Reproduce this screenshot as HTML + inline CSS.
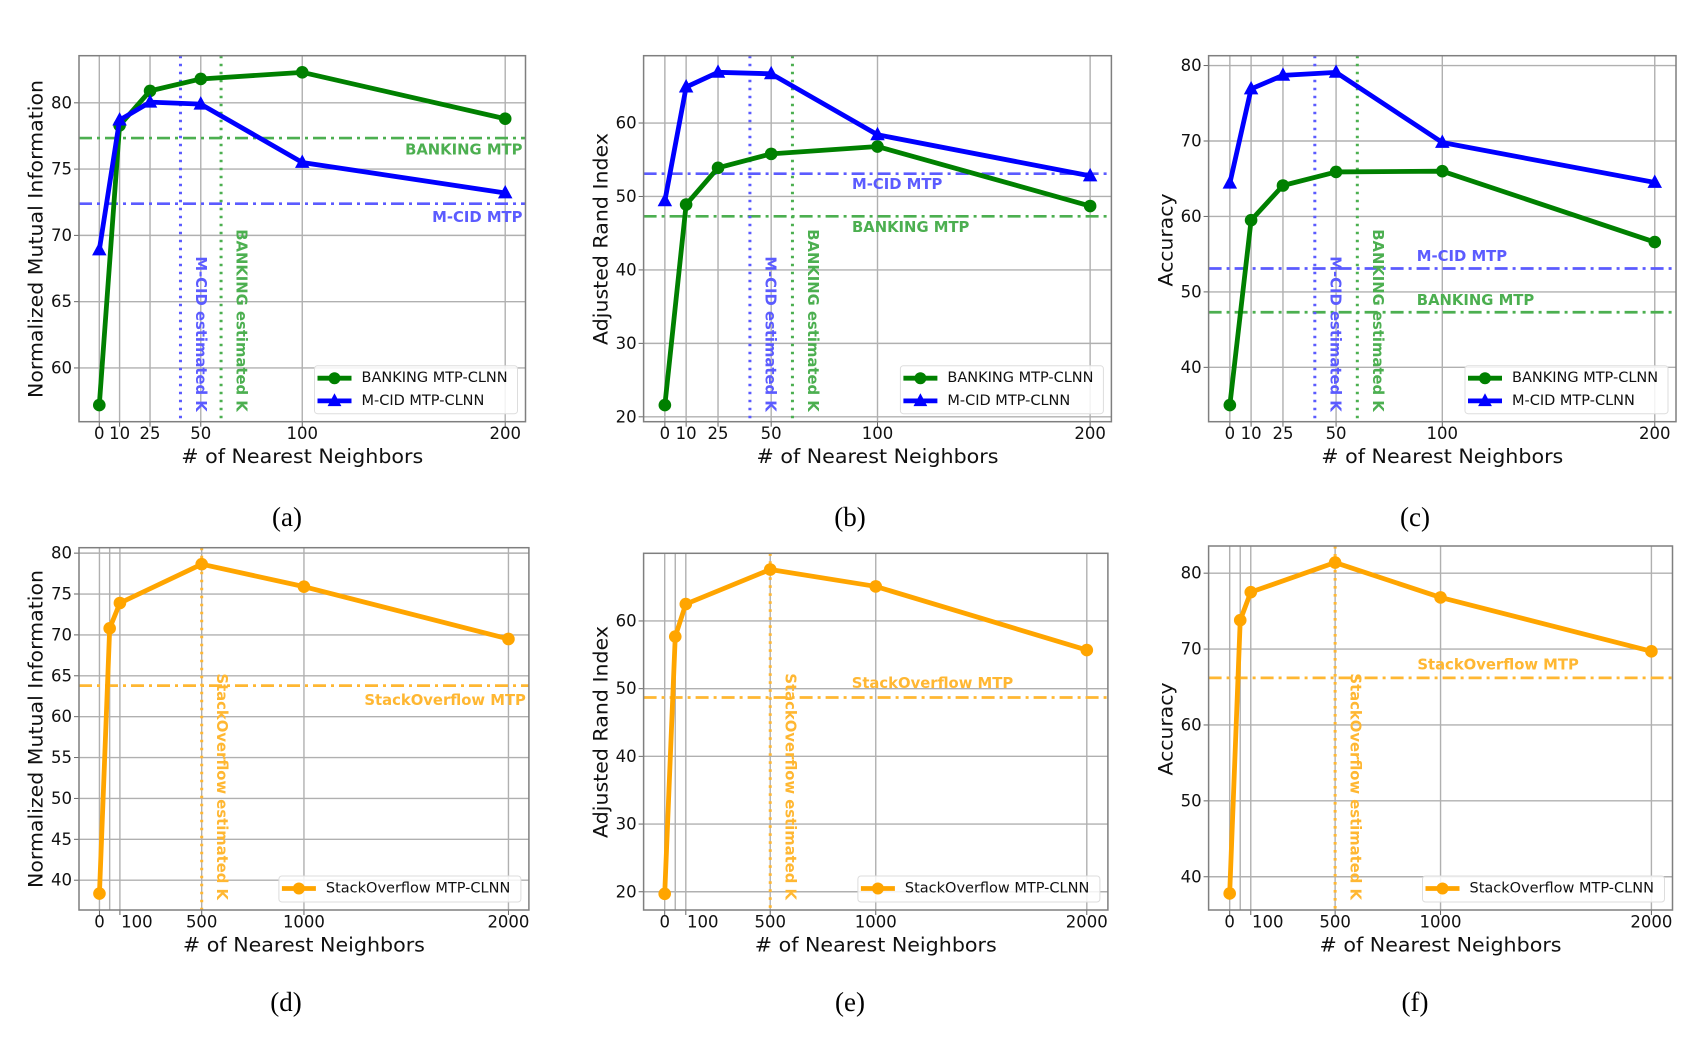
<!DOCTYPE html>
<html><head><meta charset="utf-8"><style>
html,body{margin:0;padding:0;background:#fff;}
svg{display:block;font-family:"DejaVu Sans","Liberation Sans",sans-serif;}
.cap{font-family:"Liberation Serif",serif;}
</style></head><body>
<svg id="fig" width="1706" height="1046" viewBox="0 0 1706 1046" xmlns="http://www.w3.org/2000/svg">
<rect x="0" y="0" width="1706" height="1046" fill="#fff"/>
</svg>
<script>
// ---- data ----
const kTop = [0, 10, 25, 50, 100, 200];
const kBot = [0, 50, 100, 500, 1000, 2000];
const kTopLabels = ["0", "10", "25", "50", "100", "200"];
const kBotTicks = [0, 100, 500, 1000, 2000];
const kBotGrid = [0, 50, 100, 500, 1000, 2000];
const nmiBanking = [57.2, 78.3, 80.9, 81.8, 82.3, 78.8];
const nmiMcid = [68.9, 78.7, 80.05, 79.9, 75.5, 73.2];
const ariBanking = [21.6, 48.9, 53.9, 55.8, 56.8, 48.7];
const ariMcid = [49.4, 64.9, 66.9, 66.7, 58.4, 52.8];
const accBanking = [35.0, 59.5, 64.1, 65.9, 66.0, 56.6];
const accMcid = [64.4, 76.9, 78.7, 79.1, 69.8, 64.5];
const nmiStack = [38.37, 70.8, 73.9, 78.65, 75.9, 69.5];
const ariStack = [19.7, 57.7, 62.5, 67.6, 65.1, 55.7];
const accStack = [37.8, 73.8, 77.5, 81.4, 76.8, 69.7];
const mtpNmiBanking = 77.34, mtpNmiMcid = 72.39;
const mtpAriBanking = 47.3, mtpAriMcid = 53.1;
const mtpAccBanking = 47.3, mtpAccMcid = 53.1;
const mtpNmiStack = 63.8, mtpAriStack = 48.7, mtpAccStack = 66.2;
const estKBanking = 60, estKMcid = 40, estKStack = 500;
const yTicksNmiTop = [60, 65, 70, 75, 80];
const yTicksAri = [20, 30, 40, 50, 60];
const yTicksAcc = [40, 50, 60, 70, 80];
const yTicksNmiBot = [40, 45, 50, 55, 60, 65, 70, 75, 80];
const yTicksAriBot = [20, 30, 40, 50, 60, 70];
const yTicksAccBot = [40, 50, 60, 70, 80];

const GREEN = "#008000", BLUE = "#0000ff", ORANGE = "#ffa500";
const LGREEN = "#4caf50", LBLUE = "#5b5bff", LORANGE = "#ffb732";
const svg = document.getElementById('fig');
const NS = "http://www.w3.org/2000/svg";

function mk(tag, attrs, name, parent) {
  const el = document.createElementNS(NS, tag);
  for (const k in attrs) el.setAttribute(k, attrs[k]);
  
  
  (parent || svg).appendChild(el);
  return el;
}
function txt(s, attrs, name, parent) {
  const t = mk('text', attrs, name, parent);
  t.textContent = s;
  return t;
}
function lim(vals) {
  const mn = Math.min(...vals), mx = Math.max(...vals), m = (mx - mn) * 0.05;
  return [mn - m, mx + m];
}

function panel(cfg) {
  const g = mk('g', {}, cfg.id + '-chart');
  const [x0, x1] = lim(cfg.xs);
  let all = [];
  cfg.series.forEach(s => all = all.concat(s.vals));
  const [y0, y1] = lim(all);
  const X = v => cfg.L + (v - x0) / (x1 - x0) * (cfg.R - cfg.L);
  const Y = v => cfg.B - (v - y0) / (y1 - y0) * (cfg.B - cfg.T);
  cfg.xgrid.forEach(v => {
    mk('line', {x1: X(v), x2: X(v), y1: cfg.T, y2: cfg.B, stroke: '#b0b0b0', 'stroke-width': 1.4}, 'x-gridline', g);
  });
  cfg.yticks.forEach(v => {
    if (v < y0 || v > y1) return;
    mk('line', {x1: cfg.L, x2: cfg.R, y1: Y(v), y2: Y(v), stroke: '#b0b0b0', 'stroke-width': 1.4}, 'y-gridline', g);
    mk('line', {x1: cfg.L - 5, x2: cfg.L, y1: Y(v), y2: Y(v), stroke: '#666', 'stroke-width': 1}, 'y-tick', g);
    txt(String(v), {x: cfg.L - 7, y: Y(v), 'text-anchor': 'end', 'dominant-baseline': 'central', 'font-size': 16.5, fill: '#111'}, 'y-tick-label', g);
  });
  cfg.xticks.forEach((v, i) => {
    mk('line', {x1: X(v), x2: X(v), y1: cfg.B, y2: cfg.B + 5, stroke: '#666', 'stroke-width': 1}, 'x-tick', g);
    const off = (cfg.labelShift && cfg.labelShift[i]) || 0;
    txt(cfg.xlabels[i], {x: X(v) + off, y: cfg.B + 12, 'text-anchor': 'middle', 'dominant-baseline': 'central', 'font-size': 16.5, fill: '#111'}, 'x-tick-label', g);
  });
  cfg.hlines.forEach(h => {
    mk('line', {x1: cfg.L, x2: cfg.R, y1: Y(h.v), y2: Y(h.v), stroke: h.c, 'stroke-width': 2.7, 'stroke-dasharray': '13,5,3,5'}, h.name + '-line', g);
    const tx = h.anchor === 'end' ? cfg.R - 3 : X(h.lx);
    txt(h.label, {x: tx, y: Y(h.v) + h.dy, 'text-anchor': h.anchor, 'dominant-baseline': 'central', 'font-size': 14.8, 'font-weight': 'bold', fill: h.c}, h.name + '-label', g);
  });
  cfg.vlines.forEach(vl => {
    mk('line', {x1: X(vl.v), x2: X(vl.v), y1: cfg.T, y2: cfg.B, stroke: vl.c, 'stroke-width': 3, 'stroke-dasharray': '2.6,5.4'}, vl.name + '-line', g);
    const tx = X(vl.v) + 20, ty = cfg.B - 10;
    txt(vl.label, {x: tx, y: ty, transform: `rotate(90 ${tx} ${ty})`, 'text-anchor': 'end', 'dominant-baseline': 'central', 'font-size': 14.8, 'font-weight': 'bold', fill: vl.c}, vl.name + '-label', g);
  });
  cfg.series.forEach(s => {
    const pts = cfg.xs.map((v, i) => X(v) + ',' + Y(s.vals[i])).join(' ');
    mk('polyline', {points: pts, fill: 'none', stroke: s.c, 'stroke-width': 4.8, 'stroke-linejoin': 'round'}, s.name + '-line', g);
    cfg.xs.forEach((v, i) => {
      drawMarker(g, s, X(v), Y(s.vals[i]), 6.3);
    });
  });
  mk('rect', {x: cfg.L, y: cfg.T, width: cfg.R - cfg.L, height: cfg.B - cfg.T, fill: 'none', stroke: '#7f7f7f', 'stroke-width': 1.5}, 'plot-frame', g);
  const n = cfg.series.length, lw = cfg.legW, lh = n === 2 ? 48 : 26;
  const lx = cfg.R - 8 - lw, ly = cfg.B - 8 - lh;
  const lg = mk('g', {}, 'legend', g);
  mk('rect', {x: lx, y: ly, width: lw, height: lh, rx: 3, fill: '#fff', 'fill-opacity': 0.85, stroke: '#ddd', 'stroke-width': 1}, 'legend-box', lg);
  cfg.series.forEach((s, i) => {
    const cy = ly + 12.5 + i * 22.7;
    const e = mk('g', {}, 'legend-entry', lg);
    mk('line', {x1: lx + 3, x2: lx + 37, y1: cy, y2: cy, stroke: s.c, 'stroke-width': 4.8}, 'legend-swatch', e);
    drawMarker(e, s, lx + 20, cy, 6);
    txt(s.label, {x: lx + 47, y: cy, 'dominant-baseline': 'central', 'font-size': 14.5, fill: '#111'}, 'legend-label', e);
  });
  const cx = (cfg.L + cfg.R) / 2;
  txt('# of Nearest Neighbors', {x: cx, y: cfg.B + 35, 'text-anchor': 'middle', 'dominant-baseline': 'central', 'font-size': 19.5, textLength: 242, lengthAdjust: 'spacingAndGlyphs', fill: '#111'}, 'x-axis-title', g);
  txt(cfg.ylabel, {x: cfg.ylx, y: cfg.yly, transform: `rotate(-90 ${cfg.ylx} ${cfg.yly})`, 'text-anchor': 'middle', 'dominant-baseline': 'central', 'font-size': 19.5, textLength: cfg.ylen, lengthAdjust: 'spacingAndGlyphs', fill: '#111'}, 'y-axis-title', g);
  txt(cfg.caption, {x: cfg.capx, y: cfg.capy, 'text-anchor': 'middle', 'dominant-baseline': 'central', 'font-size': 27, fill: '#000', class: 'cap'}, 'panel-caption', g);
}
function drawMarker(g, s, x, y, r) {
  if (s.marker === 'tri') {
    const h = r * 1.15;
    mk('polygon', {points: `${x},${y - h * 1.1} ${x - h},${y + h * 0.75} ${x + h},${y + h * 0.75}`, fill: s.c}, s.name + '-marker', g);
  } else {
    mk('circle', {cx: x, cy: y, r: r, fill: s.c}, s.name + '-marker', g);
  }
}

const topCommon = {xs: kTop, xticks: kTop, xgrid: kTop, xlabels: kTopLabels, T: 55.7, B: 421.7, legW: 203};
const botCommon = {xs: kBot, xticks: kBotTicks, xgrid: kBotGrid, xlabels: kBotTicks.map(String), labelShift: [0, 17, 0, 0, 0], legW: 242};

panel(Object.assign({}, topCommon, {id: 'nmi-top', L: 79, R: 525.5, yticks: yTicksNmiTop,
  series: [{name: 'banking', label: 'BANKING MTP-CLNN', vals: nmiBanking, c: GREEN, marker: 'circle'},
           {name: 'mcid', label: 'M-CID MTP-CLNN', vals: nmiMcid, c: BLUE, marker: 'tri'}],
  hlines: [{name: 'banking-mtp', v: mtpNmiBanking, c: LGREEN, label: 'BANKING MTP', anchor: 'end', dy: 12},
           {name: 'mcid-mtp', v: mtpNmiMcid, c: LBLUE, label: 'M-CID MTP', anchor: 'end', dy: 14}],
  vlines: [{name: 'mcid-estimated-k', v: estKMcid, c: LBLUE, label: 'M-CID estimated K'},
           {name: 'banking-estimated-k', v: estKBanking, c: LGREEN, label: 'BANKING estimated K'}],
  ylabel: 'Normalized Mutual Information', ylx: 36, yly: 239, ylen: 318, caption: '(a)', capx: 287, capy: 517}));

panel(Object.assign({}, topCommon, {id: 'ari-top', L: 643.6, R: 1111.4, yticks: yTicksAri,
  series: [{name: 'banking', label: 'BANKING MTP-CLNN', vals: ariBanking, c: GREEN, marker: 'circle'},
           {name: 'mcid', label: 'M-CID MTP-CLNN', vals: ariMcid, c: BLUE, marker: 'tri'}],
  hlines: [{name: 'mcid-mtp', v: mtpAriMcid, c: LBLUE, label: 'M-CID MTP', anchor: 'start', lx: 88, dy: 11},
           {name: 'banking-mtp', v: mtpAriBanking, c: LGREEN, label: 'BANKING MTP', anchor: 'start', lx: 88, dy: 11}],
  vlines: [{name: 'mcid-estimated-k', v: estKMcid, c: LBLUE, label: 'M-CID estimated K'},
           {name: 'banking-estimated-k', v: estKBanking, c: LGREEN, label: 'BANKING estimated K'}],
  ylabel: 'Adjusted Rand Index', ylx: 601, yly: 239, ylen: 212, caption: '(b)', capx: 850, capy: 517}));

panel(Object.assign({}, topCommon, {id: 'acc-top', L: 1208.6, R: 1676, yticks: yTicksAcc,
  series: [{name: 'banking', label: 'BANKING MTP-CLNN', vals: accBanking, c: GREEN, marker: 'circle'},
           {name: 'mcid', label: 'M-CID MTP-CLNN', vals: accMcid, c: BLUE, marker: 'tri'}],
  hlines: [{name: 'mcid-mtp', v: mtpAccMcid, c: LBLUE, label: 'M-CID MTP', anchor: 'start', lx: 88, dy: -12},
           {name: 'banking-mtp', v: mtpAccBanking, c: LGREEN, label: 'BANKING MTP', anchor: 'start', lx: 88, dy: -12}],
  vlines: [{name: 'mcid-estimated-k', v: estKMcid, c: LBLUE, label: 'M-CID estimated K'},
           {name: 'banking-estimated-k', v: estKBanking, c: LGREEN, label: 'BANKING estimated K'}],
  ylabel: 'Accuracy', ylx: 1166, yly: 240, ylen: 93, caption: '(c)', capx: 1415, capy: 517}));

panel(Object.assign({}, botCommon, {id: 'nmi-bottom', L: 79, R: 528.9, T: 547.7, B: 910, yticks: yTicksNmiBot,
  series: [{name: 'stackoverflow', label: 'StackOverflow MTP-CLNN', vals: nmiStack, c: ORANGE, marker: 'circle'}],
  hlines: [{name: 'stackoverflow-mtp', v: mtpNmiStack, c: LORANGE, label: 'StackOverflow MTP', anchor: 'end', dy: 15}],
  vlines: [{name: 'stackoverflow-estimated-k', v: estKStack, c: LORANGE, label: 'StackOverflow estimated K'}],
  ylabel: 'Normalized Mutual Information', ylx: 36, yly: 729, ylen: 318, caption: '(d)', capx: 286, capy: 1002}));

panel(Object.assign({}, botCommon, {id: 'ari-bottom', L: 643.6, R: 1107.9, T: 553.3, B: 910, yticks: yTicksAriBot,
  series: [{name: 'stackoverflow', label: 'StackOverflow MTP-CLNN', vals: ariStack, c: ORANGE, marker: 'circle'}],
  hlines: [{name: 'stackoverflow-mtp', v: mtpAriStack, c: LORANGE, label: 'StackOverflow MTP', anchor: 'start', lx: 886, dy: -14}],
  vlines: [{name: 'stackoverflow-estimated-k', v: estKStack, c: LORANGE, label: 'StackOverflow estimated K'}],
  ylabel: 'Adjusted Rand Index', ylx: 601, yly: 732, ylen: 212, caption: '(e)', capx: 850, capy: 1002}));

panel(Object.assign({}, botCommon, {id: 'acc-bottom', L: 1208.6, R: 1672.5, T: 546, B: 910, yticks: yTicksAccBot,
  series: [{name: 'stackoverflow', label: 'StackOverflow MTP-CLNN', vals: accStack, c: ORANGE, marker: 'circle'}],
  hlines: [{name: 'stackoverflow-mtp', v: mtpAccStack, c: LORANGE, label: 'StackOverflow MTP', anchor: 'start', lx: 890, dy: -13}],
  vlines: [{name: 'stackoverflow-estimated-k', v: estKStack, c: LORANGE, label: 'StackOverflow estimated K'}],
  ylabel: 'Accuracy', ylx: 1166, yly: 729, ylen: 93, caption: '(f)', capx: 1415, capy: 1002}));
</script>
</body></html>
